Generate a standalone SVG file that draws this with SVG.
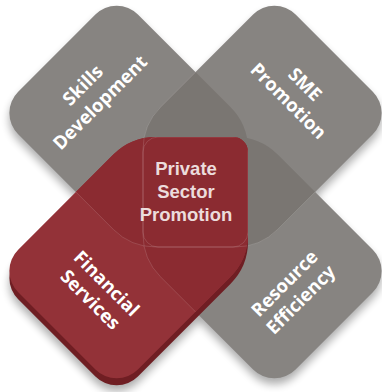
<svg xmlns="http://www.w3.org/2000/svg" width="382" height="392" viewBox="0 0 382 392">
<defs>
  <path id="pS" d="M 95.4 14.6 A 30 30 0 0 1 137.9 14.6 L 230.4 107.1 A 60 60 0 0 1 248 149.5 L 248 232 A 15 15 0 0 1 233 247 L 155.75 247 A 60 60 0 0 1 113.3 229.4 L 18.2 134.3 A 30 30 0 0 1 18.2 91.8 Z"/>
  <path id="pM" d="M 295.6 14.6 A 30 30 0 0 0 253.1 14.6 L 160.6 107.1 A 60 60 0 0 0 143 149.5 L 143 232 A 15 15 0 0 0 158 247 L 235.25 247 A 60 60 0 0 0 277.7 229.4 L 372.8 134.3 A 30 30 0 0 0 372.8 91.8 Z"/>
  <path id="pF" d="M 95.4 369.4 A 30 30 0 0 0 137.9 369.4 L 230.4 276.9 A 60 60 0 0 0 248 234.5 L 248 152 A 15 15 0 0 0 233 137 L 155.75 137 A 60 60 0 0 0 113.3 154.6 L 18.2 249.7 A 30 30 0 0 0 18.2 292.2 Z"/>
  <path id="pR" d="M 295.6 369.4 A 30 30 0 0 1 253.1 369.4 L 160.6 276.9 A 60 60 0 0 1 143 234.5 L 143 152 A 15 15 0 0 1 158 137 L 235.25 137 A 60 60 0 0 1 277.7 154.6 L 372.8 249.7 A 30 30 0 0 1 372.8 292.2 Z"/>
  <clipPath id="cS"><use href="#pS"/></clipPath>
  <clipPath id="cR"><use href="#pR"/></clipPath>
  <clipPath id="cF"><use href="#pF"/></clipPath>
  <filter id="soft" x="-20%" y="-20%" width="140%" height="140%"><feGaussianBlur stdDeviation="4"/></filter>
</defs>
<style>
  .gray{fill:#878481}
  .ovg{fill:#7a7672}
  .red{fill:#933238}
  .ovr{fill:#8b2b31}
  .ext{fill:#6f1e23}
  .faint{fill:none;stroke:#ffffff;stroke-opacity:0.18;stroke-width:0.8}
  .lbl{font-family:"Open Sans","Noto Sans",sans-serif;font-weight:700;font-size:18.5px;fill:#ffffff;text-anchor:middle}
  .ctr{font-family:"Liberation Sans",Arial,sans-serif;font-weight:700;font-size:18.5px;fill:#ecdcdc;text-anchor:middle}
</style>
<g id="shadow" fill="#000" opacity="0.32" filter="url(#soft)" transform="translate(0,6)">
  <use href="#pS"/><use href="#pM"/><use href="#pR"/><use href="#pF" transform="translate(0,7)"/>
</g>
<g id="skills-development">
  <use href="#pS" class="gray"/>
</g>
<g id="sme-promotion">
  <use href="#pM" class="gray"/>
</g>
<g id="resource-efficiency">
  <use href="#pR" class="gray"/>
</g>
<g id="gray-overlaps">
  <g clip-path="url(#cS)"><use href="#pM" class="ovg"/><use href="#pM" class="faint"/></g>
  <g clip-path="url(#cR)"><use href="#pM" class="ovg"/><use href="#pM" class="faint"/></g>
</g>
<g id="financial-services">
  <use href="#pF" class="ext" transform="translate(0,7)"/>
  <use href="#pF" class="red"/>
  <g clip-path="url(#cF)">
    <use href="#pS" class="ovr"/>
    <use href="#pR" class="ovr"/>
    <use href="#pS" class="faint"/>
    <use href="#pM" class="faint"/>
    <use href="#pR" class="faint"/>
  </g>
</g>
<g id="private-sector-promotion">
  <text class="ctr" x="186" y="175">Private</text>
  <text class="ctr" x="186" y="198">Sector</text>
  <text class="ctr" x="186" y="221">Promotion</text>
</g>
<g id="labels">
  <g transform="translate(91.5,94) rotate(-45)">
    <text class="lbl" x="0" y="-6">Skills</text>
    <text class="lbl" x="0" y="18.5">Development</text>
  </g>
  <g transform="translate(297,92.5) rotate(45)">
    <text class="lbl" x="0" y="-5">SME</text>
    <text class="lbl" x="0" y="18.5">Promotion</text>
  </g>
  <g transform="translate(98.5,291.5) rotate(45)">
    <text class="lbl" x="0" y="-5">Financial</text>
    <text class="lbl" x="0" y="18">Services</text>
  </g>
  <g transform="translate(292.5,291.5) rotate(-45)">
    <text class="lbl" x="0" y="-5">Resource</text>
    <text class="lbl" x="0" y="18">Efficiency</text>
  </g>
</g>
</svg>
